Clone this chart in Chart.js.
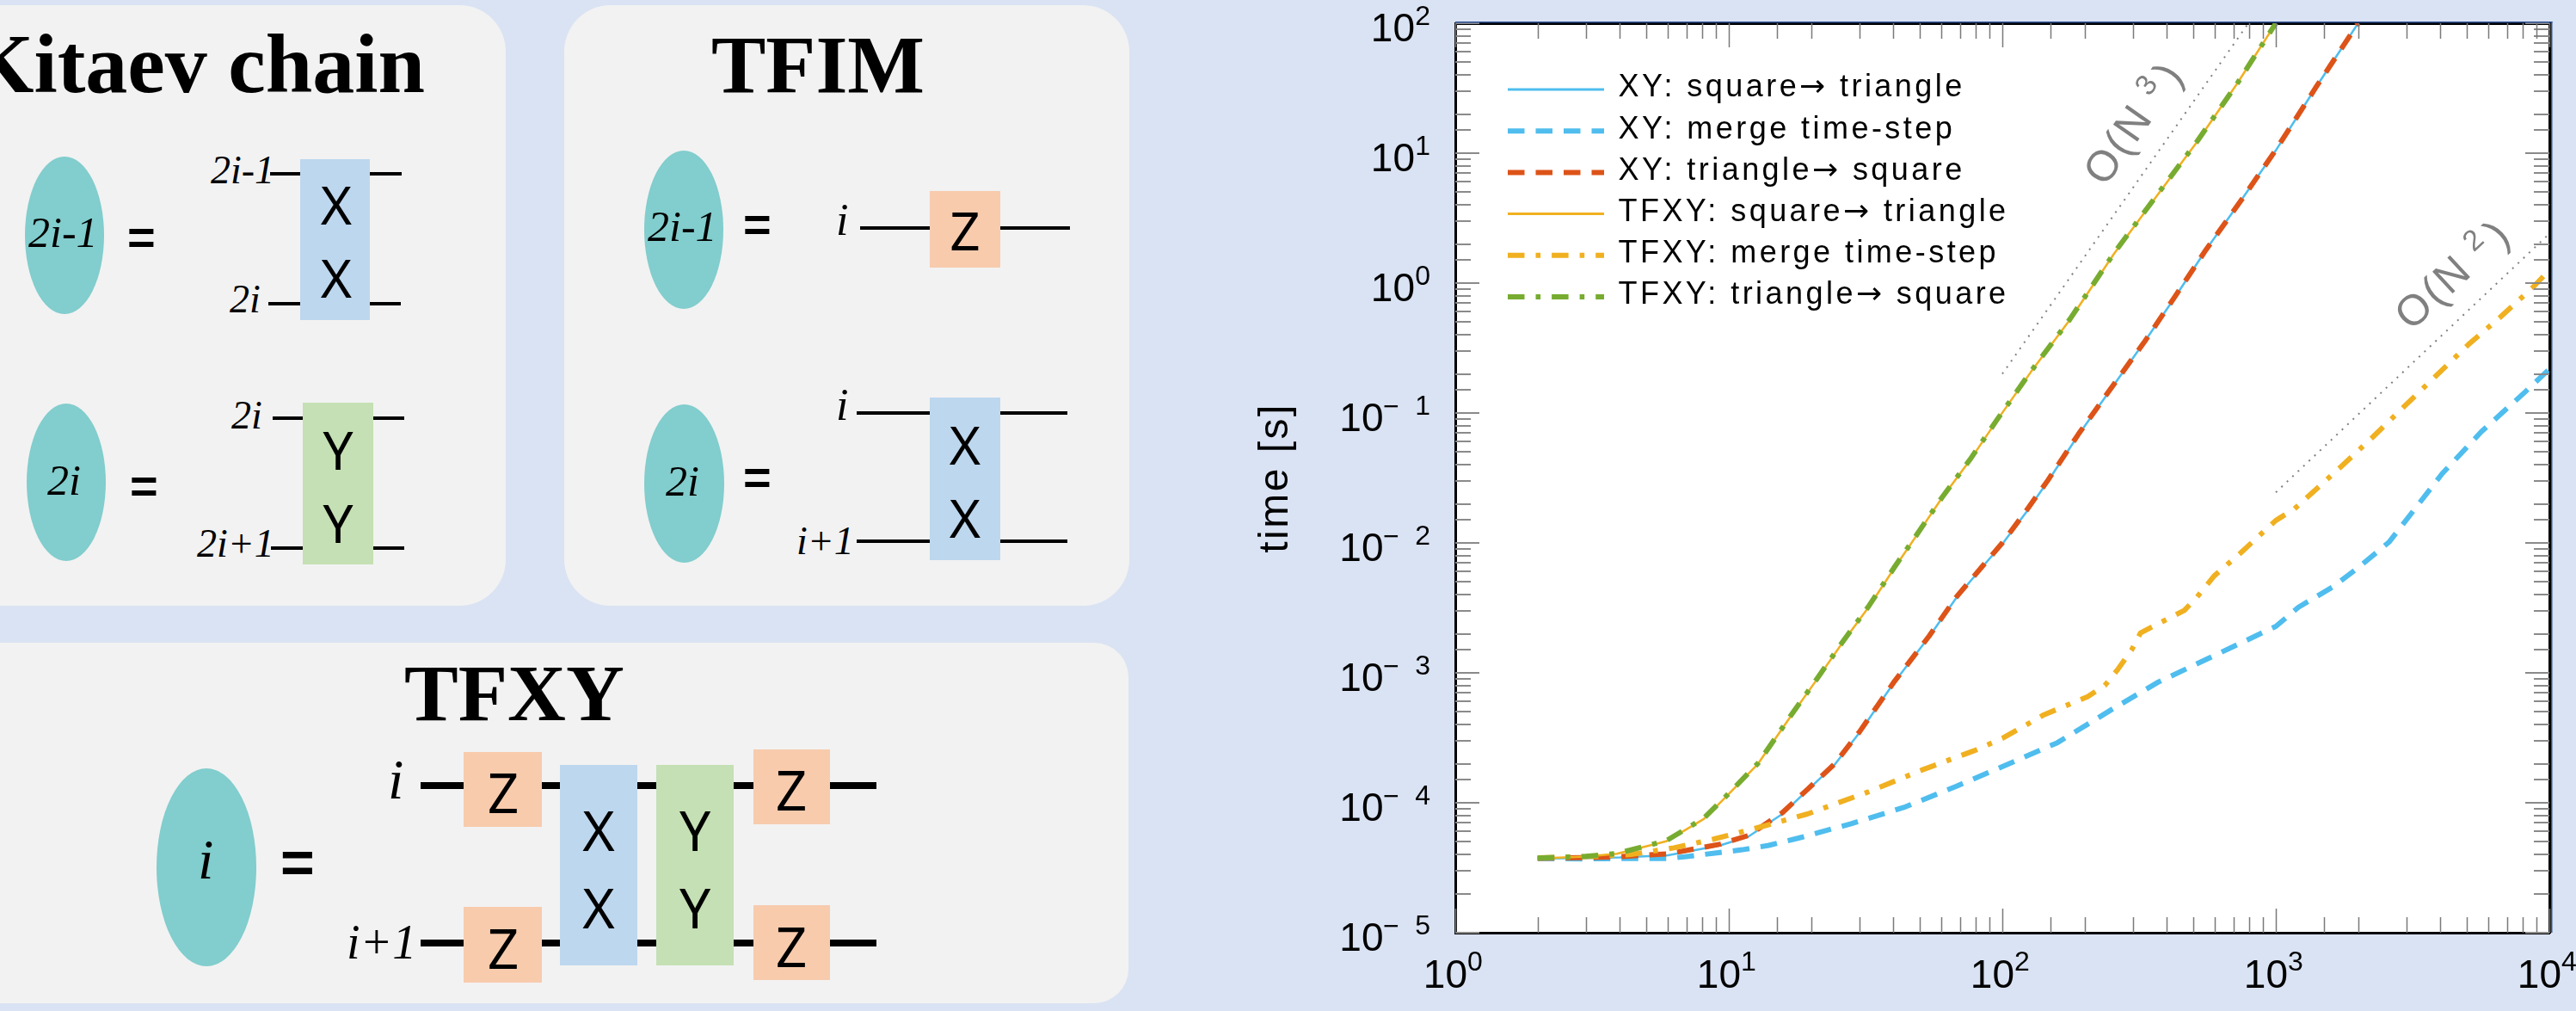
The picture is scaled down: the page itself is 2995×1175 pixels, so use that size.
<!DOCTYPE html>
<html><head><meta charset="utf-8">
<script src="https://cdn.jsdelivr.net/npm/chart.js@4"></script>
<style>
@font-face{font-family:"ArrowFace";src:local("DejaVu Sans");unicode-range:U+2192}
html,body{margin:0;padding:0;width:2995px;height:1175px;overflow:hidden;background:#dae3f3}
#stage{position:absolute;left:0;top:0;width:2995px;height:1175px;overflow:hidden}
#chartCanvas{position:absolute;left:1400px;top:0}
#diagram div,#diagram span{position:absolute}
.panel{background:#f2f2f2;border-radius:54px}
.ell{background:#82cdcd;border-radius:50%}
.wire{background:#000}
.xbox{background:#bdd7ee}.ybox{background:#c5e0b4}.zbox{background:#f8cbad}
.t{font-family:"Liberation Serif",serif;font-weight:bold;line-height:1;color:#000;white-space:nowrap}
.m{font-family:"Liberation Serif",serif;font-style:italic;color:#000;line-height:1;white-space:nowrap}
.g{font-family:"Noto Sans",sans-serif;color:#000;line-height:1;white-space:nowrap;text-align:center}
.e{font-family:"Liberation Sans",sans-serif;font-weight:bold;color:#000;line-height:1;white-space:nowrap}
</style></head><body><div id="stage"><div id="diagram"></div><canvas id="chartCanvas" width="1595" height="1175"></canvas></div>
<script>
// ---------- chart values ----------
const legendLabels = ["XY: square\u2192 triangle","XY: merge time-step","XY: triangle\u2192 square","TFXY: square\u2192 triangle","TFXY: merge time-step","TFXY: triangle\u2192 square"];
const xDecadeLabels = ["0","1","2","3","4"];
const yDecadeLabels = ["-5","-4","-3","-2","-1","0","1","2"];

const xySqTriN = [2,3,4,6,9.3,11.8,15.7,19.4,24.3,30,40,54,68,88,100,123,147,190,255,330,430,555,745,1000,1400,2000];
const xySqTriT = [3.73e-5,3.75e-5,3.8e-5,3.95e-5,4.7e-5,5.5e-5,8.2e-5,1.25e-4,1.95e-4,3.45e-4,8.3e-4,1.9e-3,3.8e-3,7.2e-3,9.8e-3,1.75e-2,3.0e-2,6.8e-2,0.163,0.35,0.79,1.8,4.3,10.5,32,100];

const xyMergeN = [2,3,4,6,7,8.9,11.2,14,18,28,43.6,68,100,159,256,372,575,1000,1210,1620,2010,2600,3125,4050,5650,8150,10000];
const xyMergeT = [3.72e-5,3.7e-5,3.72e-5,3.73e-5,3.85e-5,4.1e-5,4.35e-5,4.7e-5,5.35e-5,6.9e-5,9.2e-5,1.34e-4,1.9e-4,2.9e-4,5.35e-4,8.5e-4,1.31e-3,2.28e-3,3.2e-3,4.6e-3,6.5e-3,1.02e-2,1.68e-2,3.4e-2,7.2e-2,0.145,0.218];

const xyTriSqN = [2,3,4,6,9.3,11.8,15.7,19.4,24.3,30,40,54,68,88,100,123,147,190,255,330,430,555,745,1000,1400,2000];
const xyTriSqT = [3.74e-5,3.78e-5,3.85e-5,4.05e-5,4.8e-5,5.6e-5,8.4e-5,1.27e-4,1.98e-4,3.5e-4,8.4e-4,1.92e-3,3.85e-3,7.3e-3,1.0e-2,1.8e-2,3.05e-2,6.9e-2,0.165,0.35,0.8,1.8,4.3,10.6,32,100];

const tfSqTriN = [2,3,3.9,5.9,8.1,9.8,12.8,16.8,21,26,32.6,40.5,48.7,60,76,95,127,177,256,370,515,720,1000];
const tfSqTriT = [3.73e-5,3.85e-5,4.05e-5,5.05e-5,7.5e-5,1.12e-4,2.0e-4,4.6e-4,8.9e-4,1.7e-3,3.25e-3,6.5e-3,1.15e-2,2.2e-2,4.3e-2,8.6e-2,0.206,0.525,1.68,4.8,12.2,34,100];

const tfMergeN = [2,3,4.4,6.3,8.8,13,19.4,32.6,50.6,79,100,142,205,237,265,297,320,463,515,595,740,1000,1170,1740,2240,2930,3750,5070,6570,8770,10000];
const tfMergeT = [3.77e-5,3.85e-5,4.0e-5,4.5e-5,5.25e-5,6.5e-5,8.2e-5,1.22e-4,1.78e-4,2.52e-4,3.13e-4,4.76e-4,6.55e-4,8.0e-4,1.07e-3,1.5e-3,2.03e-3,3.03e-3,3.83e-3,5.57e-3,8.3e-3,1.49e-2,1.83e-2,3.9e-2,6.4e-2,0.111,0.183,0.338,0.54,0.94,1.26];

const tfTriSqN = [2,3,3.9,5.9,8.1,9.8,12.8,16.8,21,26,32.6,40.5,48.7,60,76,95,127,177,256,370,515,720,1000];
const tfTriSqT = [3.75e-5,3.87e-5,4.07e-5,5.1e-5,7.6e-5,1.13e-4,2.02e-4,4.65e-4,9.0e-4,1.72e-3,3.3e-3,6.6e-3,1.16e-2,2.22e-2,4.35e-2,8.7e-2,0.208,0.53,1.7,4.85,12.3,34,100];

const guideN3N = [100,794];
const guideN3T = [0.2,100];
const guideN2N = [1000,10000];
const guideN2T = [0.0245,2.4];

const blue="#4fbdee", red="#dd5318", orange="#f0b020", green="#77ac30";
const pair=(a,b)=>a.map((v,i)=>({x:v,y:b[i]}));

// ---------- schematic panels (not chart data) ----------
const D=document.getElementById('diagram');
function box(cls,x0,y0,x1,y1,extra){const e=document.createElement('div');e.className=cls;e.style.cssText=`left:${x0}px;top:${y0}px;width:${x1-x0}px;height:${y1-y0}px;`+(extra||'');D.appendChild(e);return e;}
function txt(cls,s,x,base,size,anchor){const e=document.createElement('span');e.className=cls;e.textContent=s;
  const top=base-size*0.85;e.style.cssText=`top:${top}px;font-size:${size}px;`;
  if(anchor==='r')e.style.right=(2995-x)+'px';else if(anchor==='c'){e.style.left=x+'px';e.style.transform='translateX(-50%)';}else e.style.left=x+'px';
  D.appendChild(e);}
const wh=(x0,x1,y,w)=>box('wire',x0,y-w/2,x1,y+w/2);

box('panel',-100,5.5,588,704);
box('panel',656,5.5,1313,704);
box('panel',-100,747,1312,1166,'border-radius:40px');
txt('t','Kitaev chain',494,108,98,'r');
txt('t','TFIM',827,110,95);
txt('t','TFXY',470,837.5,94);

// Kitaev
box('ell',29,182,120.5,365);box('ell',31,469,123,652);
txt('m','2i-1',33,287,50);txt('m','2i',55,575,50);
txt('e','=',148,296,56);txt('e','=',151,585,56);
box('xbox',349,185,430,372);box('ybox',352,468,434,656);
wh(314,349,202,4.5);wh(430,467,202,4.5);wh(312,349,353,4.5);wh(430,466,353,4.5);
wh(317,352,486,4.5);wh(434,470,486,4.5);wh(315,352,637,4.5);wh(434,470,637,4.5);
txt('m','2i-1',245,214,46);txt('m','2i',267,364,46);txt('m','2i',269,499.5,46);txt('m','2i+1',229,648,46);
txt('g','X',391,259,62,'c');txt('g','X',391,344,62,'c');txt('g','Y',393,544,62,'c');txt('g','Y',393,629,62,'c');

// TFIM
box('ell',748.5,174.5,841,359);box('ell',749,470,842,654);
txt('m','2i-1',753,280,50);txt('m','2i',774,576,50);
txt('e','=',864,281,56);txt('e','=',864,575,56);
box('zbox',1081,222,1163,311);box('xbox',1081,462,1163,651);
wh(1000,1081,265,4.5);wh(1163,1244,265,4.5);wh(996,1081,480,4.5);wh(1163,1241,480,4.5);wh(996,1081,629,4.5);wh(1163,1241,629,4.5);
txt('m','i',972,274.5,52);txt('m','i',972,489.5,52);txt('m','i+1',926,645,46);
txt('g','Z',1122,289,62,'c');txt('g','X',1122,538,62,'c');txt('g','X',1122,623,62,'c');

// TFXY
box('ell',182,893,298,1123);
txt('m','i',230,1022,66);
txt('e','=',326,1026,68);
for(const y of [913,1096]){wh(489,539,y,8);wh(630,651,y,8);wh(741,763,y,8);wh(853,876,y,8);wh(965,1019,y,8);}
box('zbox',539,874,630,961);box('zbox',876,871,965,958);box('zbox',539,1054,630,1142);box('zbox',876,1052,965,1139);
box('xbox',651,889,741,1122);box('ybox',763,889,853,1122);
txt('m','i',451,929,66);txt('m','i+1',403,1115,56);
txt('g','Z',585,943,64,'c');txt('g','Z',920,940,64,'c');txt('g','Z',585,1124,64,'c');txt('g','Z',920,1122,64,'c');
txt('g','X',696,987,64,'c');txt('g','X',696,1077,64,'c');txt('g','Y',808,987,64,'c');txt('g','Y',808,1077,64,'c');

// ---------- chart ----------
const sansFont='"Liberation Sans", Arial, sans-serif';
const inwardTicks={
  id:'inwardTicks',
  afterInit(chart){
    const lg=chart.legend;const o=lg.draw;
    lg.draw=function(a){const c=chart.ctx;c.save();c.letterSpacing='3.45px';
      const f=c.fillText;c.fillText=function(t,x,y,m){return m===undefined?f.call(c,t,x-1.5,y-1.5):f.call(c,t,x-1.5,y-1.5,m);};
      o.call(lg,a);delete c.fillText;c.restore();};
  },
  afterLayout(chart){
    const lg=chart.legend;lg.left=353-12.2;lg.top=73.8;lg.right=lg.left+700;lg.bottom=lg.top+500;
    const y=chart.scales.y;
    if(!y._wrapped){y._wrapped=true;const o=y.drawTitle;y.drawTitle=function(){const c=chart.ctx;c.save();c.letterSpacing='2.5px';o.call(y);c.restore();};}
  },
  beforeDraw(chart){
    const {ctx,chartArea:a}=chart;ctx.save();ctx.fillStyle='#fff';ctx.fillRect(a.left,a.top,a.right-a.left,a.bottom-a.top);ctx.restore();
  },
  afterDatasetsDraw(chart){
    const {ctx,chartArea:a,scales}=chart;
    ctx.save();
    ctx.lineWidth=2;ctx.strokeStyle='#8a8a8a';
    const major=v=>Math.abs(Math.log10(v)-Math.round(Math.log10(v)))<1e-9;
    ctx.beginPath();
    scales.y.ticks.forEach(t=>{const p=Math.round(scales.y.getPixelForValue(t.value));const l=major(t.value)?28:18;
      ctx.moveTo(a.left,p);ctx.lineTo(a.left+l,p);ctx.moveTo(a.right,p);ctx.lineTo(a.right-l,p);});
    ctx.stroke();
    ctx.lineWidth=1.5;ctx.strokeStyle='#7a7a7a';
    ctx.beginPath();
    scales.x.ticks.forEach(t=>{const p=Math.round(scales.x.getPixelForValue(t.value))+.5;const l=major(t.value)?28:18;
      ctx.moveTo(p,a.bottom);ctx.lineTo(p,a.bottom-l);ctx.moveTo(p,a.top);ctx.lineTo(p,a.top+l);});
    ctx.stroke();
    ctx.restore();
  },
  afterDraw(chart){
    const {ctx,scales,chartArea:a}=chart;
    ctx.save();
    ctx.fillStyle='#2f5597';
    ctx.fillRect(a.left,a.top-2,a.right-a.left+3.5,1.5);
    ctx.fillRect(a.right+2,a.top-2,1.5,a.bottom-a.top+2);
    ctx.letterSpacing='0px';
    ctx.fillStyle='#000';ctx.textBaseline='alphabetic';
    const big='46px '+sansFont, small='32px '+sansFont;
    yDecadeLabels.forEach(e=>{
      const p=scales.y.getPixelForValue(Math.pow(10,+e));
      const right=a.left-47;
      ctx.textAlign='right';
      ctx.font=big;
      const neg=e[0]==='-';
      ctx.fillText('10',right-(neg?36.5:0),p+21);
      ctx.font=small;
      if(neg){ctx.textAlign='left';ctx.fillText('\u2212',right-37,p+3);ctx.textAlign='right';ctx.fillText(e.slice(1),right+18,p+2);}
      else {ctx.fillText(e,right+18,p+2);}
    });
    xDecadeLabels.forEach(e=>{
      const p=scales.x.getPixelForValue(Math.pow(10,+e));
      ctx.textAlign='right';ctx.font=big;ctx.fillText('10',p+14,1148);
      ctx.textAlign='left';ctx.font=small;ctx.fillText(e,p+14,1128);
    });
    const note=(cx,cy,deg,exp)=>{
      ctx.save();ctx.translate(cx,cy);ctx.rotate(-deg*Math.PI/180);
      ctx.fillStyle='#808080';ctx.textAlign='left';
      ctx.font='50px '+sansFont;ctx.letterSpacing='3px';
      ctx.fillText('O(N',-82,14);
      ctx.letterSpacing='0px';
      ctx.font='34px '+sansFont;ctx.fillText(exp,33.7,-4);
      ctx.font='50px '+sansFont;ctx.fillText(')',60.7,15);
      ctx.restore();
    };
    note(1083,143,55,'3');
    note(1454,319.6,43,'2');
    ctx.restore();
  }
};
const keep=s=>{s.paddingLeft=0;s.paddingRight=0;s.paddingTop=0;s.paddingBottom=0;};
const ds=(label,n,t,color,width,dash,order)=>({label,data:pair(n,t),borderColor:color,backgroundColor:color,borderWidth:width,borderDash:dash,order,pointRadius:0,tension:0,fill:false,borderCapStyle:'butt',borderJoinStyle:'round'});
const dashA=[19.5,13], dashB=[19.5,13,5.6,13];
function build(){
new Chart(document.getElementById('chartCanvas'),{
  type:'line',
  data:{datasets:[
    ds(legendLabels[0],xySqTriN,xySqTriT,blue,2.5,[],6),
    ds(legendLabels[1],xyMergeN,xyMergeT,blue,6,dashA,5),
    ds(legendLabels[2],xyTriSqN,xyTriSqT,red,6,dashA,4),
    ds(legendLabels[3],tfSqTriN,tfSqTriT,orange,2.5,[],3),
    ds(legendLabels[4],tfMergeN,tfMergeT,orange,6,dashB,2),
    ds(legendLabels[5],tfTriSqN,tfTriSqT,green,6,dashB,1),
    ds('O(N^3)',guideN3N,guideN3T,'#808080',2,[2,6.8],7),
    ds('O(N^2)',guideN2N,guideN2T,'#808080',2,[2,6.8],7)
  ]},
  options:{
    responsive:false,animation:false,devicePixelRatio:1,
    layout:{padding:{left:0,right:31,top:27,bottom:0}},
    plugins:{
      tooltip:{enabled:false},title:{display:false},
      legend:{position:'chartArea',align:'start',
        labels:{usePointStyle:true,pointStyle:'line',pointStyleWidth:112,boxHeight:1,padding:12.2,color:'#000',
          font:{family:'ArrowFace, '+sansFont,size:36},
          sort:(a,b)=>a.datasetIndex-b.datasetIndex,
          filter:i=>!i.text.startsWith('O('),
          generateLabels(chart){
            return Chart.defaults.plugins.legend.labels.generateLabels(chart).map(it=>{
              const d=chart.data.datasets[it.datasetIndex];
              it.lineDash=d.borderDash;it.lineWidth=d.borderDash.length?6:3;it.strokeStyle=d.borderColor;it.lineCap='butt';
              return it;});
          }}}
    },
    scales:{
      x:{type:'logarithmic',position:'bottom',min:1,max:10000,
        grid:{display:true,drawOnChartArea:false,drawTicks:false},border:{display:true,color:'#000',width:3},
        ticks:{display:false,autoSkip:false},afterFit(s){s.height=91;keep(s);}},
      y:{type:'logarithmic',position:'left',min:1e-5,max:100,
        grid:{display:true,drawOnChartArea:false,drawTicks:false},border:{display:true,color:'#000',width:3},
        ticks:{display:false,autoSkip:false},
        title:{display:true,text:'time [s]',color:'#000',font:{family:sansFont,size:48},padding:{top:55,bottom:0}},
        afterFit(s){s.width=292;keep(s);}},
      xTop:{type:'logarithmic',position:'top',min:1,max:10000,
        grid:{display:true,drawOnChartArea:false,drawTicks:false},border:{display:true,color:'#000',width:3},
        ticks:{display:false},afterFit(s){s.height=0;keep(s);}},
      yRight:{type:'logarithmic',position:'right',min:1e-5,max:100,
        grid:{display:true,drawOnChartArea:false,drawTicks:false},border:{display:true,color:'#000',width:3},
        ticks:{display:false},afterFit(s){s.width=0;keep(s);}}
    }
  },
  plugins:[inwardTicks]
});
}
document.fonts.load('36px ArrowFace','\u2192').then(build,build);
</script></body></html>
